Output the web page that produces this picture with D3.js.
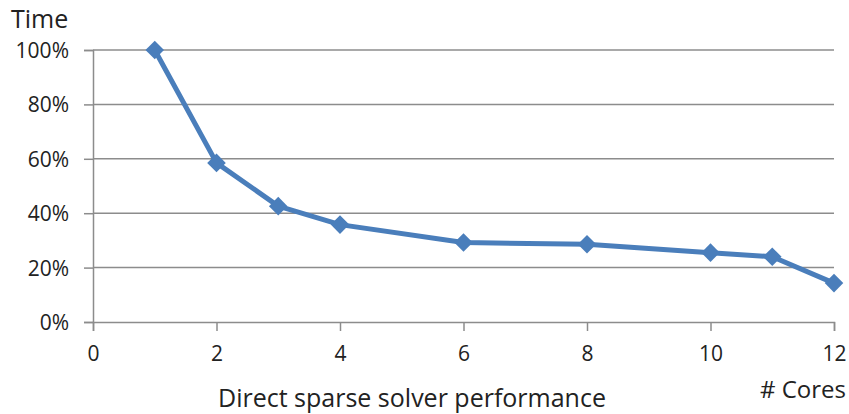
<!DOCTYPE html>
<html>
<head>
<meta charset="utf-8">
<script src="https://cdn.jsdelivr.net/npm/d3@7"></script>
<style>
  body { margin: 0; background: #fff; }
  text { font-family: "Open Sans", sans-serif; fill: #222; }
</style>
</head>
<body>
<div class="chart"></div>
<script>
const width = 849
const height = 414

// data
const cores = [1, 2, 3, 4, 6, 8, 10, 11, 12]
const timeShare = [1.00, 0.585, 0.426, 0.358, 0.292, 0.286, 0.255, 0.24, 0.143]
const xTicks = [0, 2, 4, 6, 8, 10, 12]
const yTicks = [0, 0.2, 0.4, 0.6, 0.8, 1.0]

const data = cores.map((c, i) => ({ x: c, y: timeShare[i] }))

const svg = d3.select(".chart")
  .append("svg")
  .attr("width", width)
  .attr("height", height)

const x = d3.scaleLinear().domain([0, 12]).range([93, 834])
const y = d3.scaleLinear().domain([0, 1]).range([322, 50])

// gridlines
svg.append("g")
  .selectAll("line")
  .data(yTicks.filter(d => d > 0))
  .enter().append("line")
    .attr("x1", x(0)).attr("x2", x(12))
    .attr("y1", d => y(d)).attr("y2", d => y(d))
    .attr("stroke", "#8c8c8c")
    .attr("stroke-width", 1.5)

// y axis
const yAxis = svg.append("g")
  .attr("transform", `translate(${x(0)},0)`)
  .call(d3.axisLeft(y).tickValues(yTicks).tickFormat(d3.format(".0%")).tickSize(9).tickPadding(15))
yAxis.select(".domain").attr("stroke", "#8c8c8c").attr("stroke-width", 1.5)
yAxis.selectAll(".tick line").attr("stroke", "#8c8c8c").attr("stroke-width", 1.5)
yAxis.selectAll("text").style("font-size", "21px").attr("fill", "#222").attr("dy", "0.36em")

// x axis
const xAxis = svg.append("g")
  .attr("transform", `translate(0,${y(0)})`)
  .call(d3.axisBottom(x).tickValues(xTicks).tickSize(9).tickPadding(15))
xAxis.select(".domain").attr("stroke", "#8c8c8c").attr("stroke-width", 1.5)
xAxis.selectAll(".tick line").attr("stroke", "#8c8c8c").attr("stroke-width", 1.5)
xAxis.selectAll("text").style("font-size", "21px").attr("fill", "#222")

// line
const line = d3.line().x(d => x(d.x)).y(d => y(d.y))
svg.append("path")
  .datum(data)
  .attr("fill", "none")
  .attr("stroke", "#4a7ebb")
  .attr("stroke-width", 5)
  .attr("stroke-linejoin", "round")
  .attr("d", line)

// diamond markers
svg.append("g")
  .selectAll("path")
  .data(data)
  .enter().append("path")
    .attr("d", d3.symbol().type(d3.symbolDiamond2).size(220))
    .attr("transform", d => `translate(${x(d.x)},${y(d.y)})`)
    .attr("fill", "#4a7ebb")

// labels
svg.append("text")
  .attr("x", 11).attr("y", 28)
  .style("font-size", "25px")
  .text("Time")

svg.append("text")
  .attr("x", 846).attr("y", 398)
  .attr("text-anchor", "end")
  .style("font-size", "24px")
  .text("# Cores")

svg.append("text")
  .attr("x", 412).attr("y", 407)
  .attr("text-anchor", "middle")
  .style("font-size", "25px")
  .text("Direct sparse solver performance")
</script>
</body>
</html>
